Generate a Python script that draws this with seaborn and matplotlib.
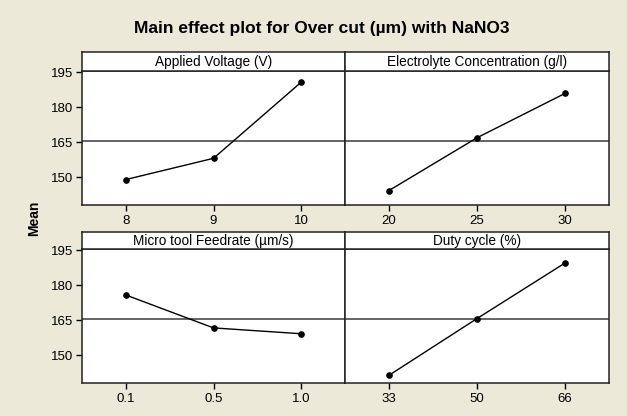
import numpy as np
import pandas as pd
import matplotlib
matplotlib.use('Agg')
import matplotlib.pyplot as plt
import seaborn as sns

# 数据
factors = ['Applied Voltage (V)', 'Electrolyte Concentration (g/l)',
           'Micro tool Feedrate (µm/s)', 'Duty cycle (%)']
voltage_levels = ['8', '9', '10']
voltage_means = [149.1, 158.2, 190.8]
conc_levels = ['20', '25', '30']
conc_means = [144.4, 167.0, 186.0]
feed_levels = ['0.1', '0.5', '1.0']
feed_means = [175.9, 161.8, 159.3]
duty_levels = ['33', '50', '66']
duty_means = [141.5, 165.8, 189.6]
y_ticks = [150, 165, 180, 195]

BG = '#ECE9D8'


def build_data():
    """整理成长表"""
    rows = []
    for f, lv, mv in zip(factors,
                         [voltage_levels, conc_levels, feed_levels, duty_levels],
                         [voltage_means, conc_means, feed_means, duty_means]):
        for l, m in zip(lv, mv):
            rows.append({'factor': f, 'level': l, 'mean': m})
    return pd.DataFrame(rows)


def draw(data):
    sns.set_style('white')
    plt.rcParams['font.family'] = ['Liberation Sans', 'DejaVu Sans']
    plt.rcParams['text.color'] = 'black'
    plt.rcParams['xtick.color'] = 'black'
    plt.rcParams['ytick.color'] = 'black'

    fig = plt.figure(figsize=(6.27, 4.16), dpi=100, facecolor=BG)
    grand_mean = data.groupby('factor')['mean'].mean().mean()

    W, H = 627.0, 416.0
    cols = [(82, 345), (345, 609)]
    rows = [(52, 71, 205), (232, 249, 383)]

    for i, f in enumerate(factors):
        r, c = divmod(i, 2)
        x0, x1 = cols[c]
        s_top, p_top, p_bot = rows[r]
        ax = fig.add_axes([x0 / W, 1 - p_bot / H, (x1 - x0) / W, (p_bot - p_top) / H])
        sax = fig.add_axes([x0 / W, 1 - p_top / H, (x1 - x0) / W, (p_top - s_top) / H])

        sub = data[data['factor'] == f]
        order = list(sub['level'])
        ax.axhline(grand_mean, color='#3a3a3a', lw=1.1, zorder=1)
        sns.pointplot(data=sub, x='level', y='mean', order=order, color='black',
                      markers='o', markersize=4, linewidth=1, errorbar=None, ax=ax)
        ax.set_xlim(-0.5, 2.5)
        ax.set_ylim(138.2, 195.6)
        ax.set_xlabel('')
        ax.set_ylabel('')
        ax.set_facecolor('white')
        ax.set_yticks(y_ticks)
        ax.tick_params(axis='x', direction='out', length=4, width=1, labelsize=9.5,
                       pad=3, bottom=True, colors='black')
        if c == 0:
            ax.tick_params(axis='y', direction='out', length=4, width=1, labelsize=9.5,
                           pad=2, left=True, colors='black')
        else:
            ax.tick_params(axis='y', left=False, labelleft=False)
        for sp in ax.spines.values():
            sp.set_color('#222222')
            sp.set_linewidth(1.1)

        sax.set_xticks([])
        sax.set_yticks([])
        sax.set_facecolor('white')
        for sp in sax.spines.values():
            sp.set_color('#222222')
            sp.set_linewidth(1.1)
        sax.text(0.5, 0.45, f, ha='center', va='center', fontsize=9.8,
                 transform=sax.transAxes)

    fig.text(322 / W, 1 - 29 / H, 'Main effect plot for Over cut (µm) with NaNO3',
             ha='center', va='center', fontsize=12.5, fontweight='bold')
    fig.text(34 / W, 1 - 218 / H, 'Mean', rotation=90, ha='center', va='center',
             fontsize=10, fontweight='bold')

    fig.savefig('out.png', dpi=100, facecolor=BG)


def main():
    data = build_data()
    draw(data)


if __name__ == "__main__":
    main()
